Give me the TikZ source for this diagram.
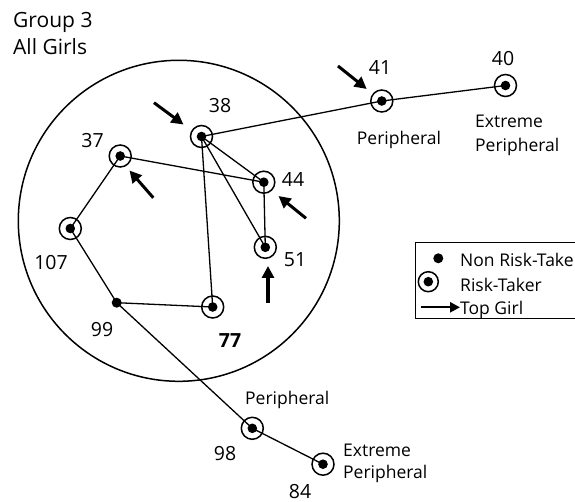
\documentclass[tikz,border=0pt]{standalone}
\usepackage{fontspec}
\setmainfont{Open Sans}
\usetikzlibrary{arrows.meta}
\begin{document}
\begin{tikzpicture}[x=1pt,y=-1pt,
  every node/.style={font=\fontsize{17.5}{21}\selectfont},
  rt/.style={circle,draw,line width=1.5pt,minimum size=22pt,inner sep=0pt,
    path picture={\fill (path picture bounding box.center) circle (4.8pt);}},
  rtsmall/.style={rt,minimum size=20pt},
  nrt/.style={circle,fill,minimum size=10pt,inner sep=0pt},
  lbl/.style={inner sep=0pt,anchor=base},
  num/.style={lbl,font=\fontsize{19.5}{23}\selectfont},
  lblw/.style={inner sep=0pt,anchor=base west},
  edge/.style={line width=1.3pt},
  topgirl/.style={line width=3pt,-{Triangle[length=12pt,width=12pt]}},
  legarrow/.style={line width=2.4pt,-{Triangle[length=10pt,width=10pt]}}]
\clip (0,0) rectangle (575,502);
% core circle
\node[circle,draw,line width=1.5pt,minimum size=321pt,inner sep=0pt] (core) at (178.8,220.8) {};
% title
\node[lblw,font=\fontsize{21}{25}\selectfont] (t1) at (13,28) {Group 3};
\node[lblw,font=\fontsize{21}{25}\selectfont] (t2) at (13,55) {All Girls};
% girls
\node[rt] (n38) at (201.5,136.5) {};
\node[rt] (n37) at (120.2,156) {};
\node[rt] (n44) at (263.8,182.2) {};
\node[rt] (n51) at (265.3,247.3) {};
\node[rt] (n107) at (70.3,228.5) {};
\node[nrt] (n99) at (116.7,302.7) {};
\node[rt] (n77) at (212.7,307) {};
\node[rt] (n41) at (381.8,101) {};
\node[rt] (n40) at (505.5,85.5) {};
\node[rt] (n98) at (252.3,428.3) {};
\node[rt] (n84) at (323,464.2) {};
% ties
\draw[edge] (n38.center) -- (n41.center);
\draw[edge] (n41.center) -- (n40.center);
\draw[edge] (n38.center) -- (n44.center);
\draw[edge] (n38.center) -- (n51.center);
\draw[edge] (n38.center) -- (n77.center);
\draw[edge] (n37.center) -- (n44.center);
\draw[edge] (n44.center) -- (n51.center);
\draw[edge] (n37.center) -- (n107.center);
\draw[edge] (n107.center) -- (n99.center);
\draw[edge] (n99.center) -- (n77.center);
\draw[edge] (n99.center) -- (n98.center);
\draw[edge] (n98.center) -- (n84.center);
% labels
\node[num] (l38) at (220,113) {38};
\node[num] (l37) at (92.5,148) {37};
\node[num] (l44) at (293,186.7) {44};
\node[num] (l51) at (295,266.7) {51};
\node[num] (l107) at (51,270) {107};
\node[num] (l99) at (102,336.7) {99};
\node[num,font=\fontsize{19.5}{23}\selectfont\bfseries] (l77) at (230,347) {77};
\node[num] (l41) at (380,75) {41};
\node[num] (l40) at (503,66) {40};
\node[lbl] (p41) at (399,144.3) {Peripheral};
\node[lblw] (e40a) at (475,128) {Extreme};
\node[lblw] (e40b) at (475,151.7) {Peripheral};
\node[lblw] (p98) at (245,404.3) {Peripheral};
\node[num] (l98) at (225,460) {98};
\node[lblw] (e84a) at (343,456) {Extreme};
\node[lblw] (e84b) at (343,478.3) {Peripheral};
\node[num] (l84) at (300,498) {84};
% top girl arrows
\coordinate (a38s) at (154,102.7);  \coordinate (a38e) at (183.5,124.5);
\coordinate (a41s) at (338,66);     \coordinate (a41e) at (366.7,89);
\coordinate (a37s) at (153.3,197.8); \coordinate (a37e) at (129.5,170.5);
\coordinate (a44s) at (306,218.3);  \coordinate (a44e) at (278.5,196);
\coordinate (a51s) at (268,303);    \coordinate (a51e) at (268,266);
\draw[topgirl] (a38s) -- (a38e);
\draw[topgirl] (a41s) -- (a41e);
\draw[topgirl] (a37s) -- (a37e);
\draw[topgirl] (a44s) -- (a44e);
\draw[topgirl,line width=3.6pt] (a51s) -- (a51e);
% legend
\node[draw,line width=1.3pt,minimum width=190pt,minimum height=76.3pt,inner sep=0pt,anchor=north west] (legend) at (415,241.7) {};
\node[nrt] (k1) at (438.3,258.3) {};
\node[rtsmall] (k2) at (428.3,281.7) {};
\coordinate (k3s) at (420.7,307.3);
\coordinate (k3e) at (460,307.3);
\draw[legarrow] (k3s) -- (k3e);
\node[lblw] (kt1) at (460,266.7) {Non Risk-Taker};
\node[lblw] (kt2) at (460,291) {Risk-Taker};
\node[lblw] (kt3) at (460,314) {Top Girl};
\end{tikzpicture}
\end{document}
